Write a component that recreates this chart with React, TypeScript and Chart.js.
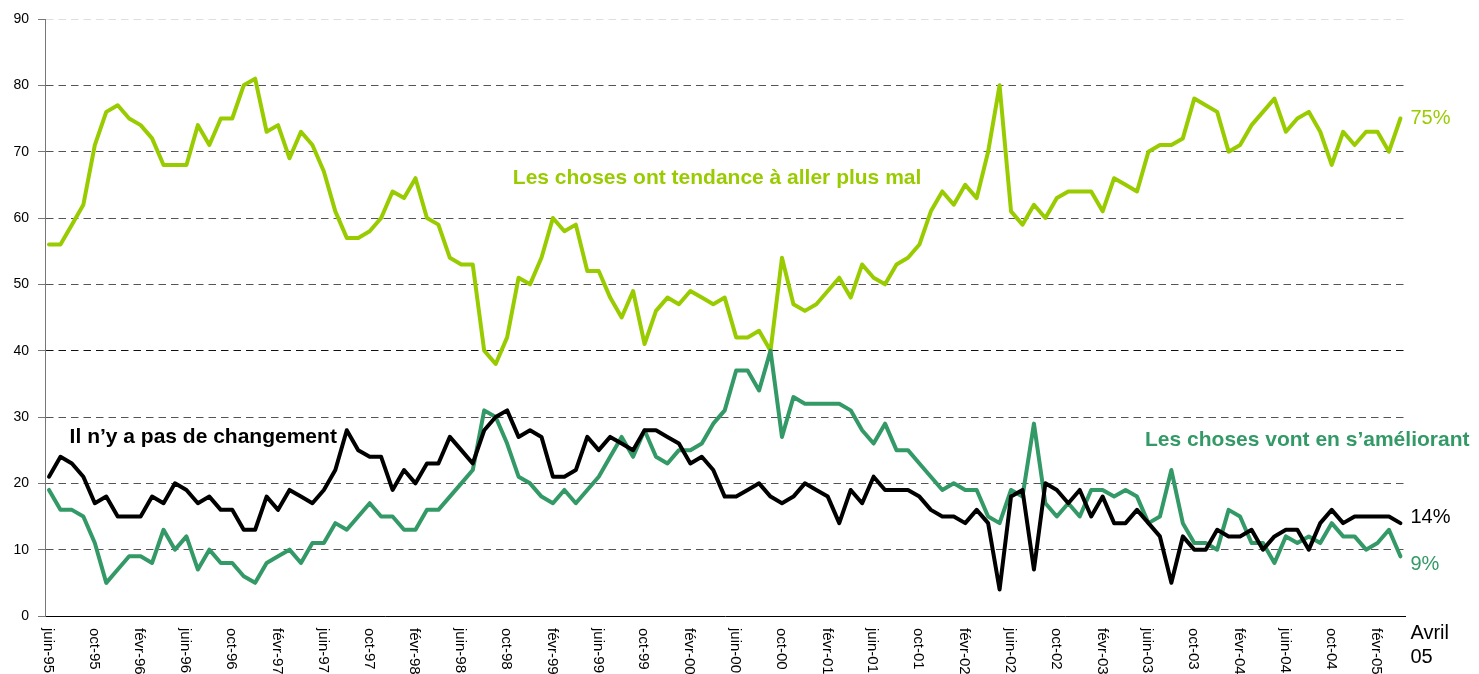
import React, { useEffect, useRef } from "react";
import { Chart, registerables } from "chart.js";

Chart.register(...registerables);

// Monthly polls, juin-95 .. avril-05 (119 points)
const tickLabels = [
  "juin-95", "oct-95", "févr-96", "juin-96", "oct-96", "févr-97", "juin-97", "oct-97",
  "févr-98", "juin-98", "oct-98", "févr-99", "juin-99", "oct-99", "févr-00", "juin-00",
  "oct-00", "févr-01", "juin-01", "oct-01", "févr-02", "juin-02", "oct-02", "févr-03",
  "juin-03", "oct-03", "févr-04", "juin-04", "oct-04", "févr-05",
];
const tickEvery = 4;
const endLabel = ["Avril", "05"];

const worse = [
  56, 56, 59, 62, 71, 76, 77, 75, 74, 72, 68, 68, 68, 74, 71, 75, 75, 80, 81, 73, 74,
  69, 73, 71, 67, 61, 57, 57, 58, 60, 64, 63, 66, 60, 59, 54, 53, 53, 40, 38, 42, 51,
  50, 54, 60, 58, 59, 52, 52, 48, 45, 49, 41, 46, 48, 47, 49, 48, 47, 48, 42, 42, 43,
  40, 54, 47, 46, 47, 49, 51, 48, 53, 51, 50, 53, 54, 56, 61, 64, 62, 65, 63, 70, 80,
  61, 59, 62, 60, 63, 64, 64, 64, 61, 66, 65, 64, 70, 71, 71, 72, 78, 77, 76, 70, 71,
  74, 76, 78, 73, 75, 76, 73, 68, 73, 71, 73, 73, 70, 75,
];

const noChange = [
  21, 24, 23, 21, 17, 18, 15, 15, 15, 18, 17, 20, 19, 17, 18, 16, 16, 13, 13, 18, 16,
  19, 18, 17, 19, 22, 28, 25, 24, 24, 19, 22, 20, 23, 23, 27, 25, 23, 28, 30, 31, 27,
  28, 27, 21, 21, 22, 27, 25, 27, 26, 25, 28, 28, 27, 26, 23, 24, 22, 18, 18, 19, 20,
  18, 17, 18, 20, 19, 18, 14, 19, 17, 21, 19, 19, 19, 18, 16, 15, 15, 14, 16, 14, 4,
  18, 19, 7, 20, 19, 17, 19, 15, 18, 14, 14, 16, 14, 12, 5, 12, 10, 10, 13, 12, 12,
  13, 10, 12, 13, 13, 10, 14, 16, 14, 15, 15, 15, 15, 14,
];

const better = [
  19, 16, 16, 15, 11, 5, 7, 9, 9, 8, 13, 10, 12, 7, 10, 8, 8, 6, 5, 8, 9,
  10, 8, 11, 11, 14, 13, 15, 17, 15, 15, 13, 13, 16, 16, 18, 20, 22, 31, 30, 26, 21,
  20, 18, 17, 19, 17, 19, 21, 24, 27, 24, 28, 24, 23, 25, 25, 26, 29, 31, 37, 37, 34,
  40, 27, 33, 32, 32, 32, 32, 31, 28, 26, 29, 25, 25, 23, 21, 19, 20, 19, 19, 15, 14,
  19, 18, 29, 17, 15, 17, 15, 19, 19, 18, 19, 18, 14, 15, 22, 14, 11, 11, 10, 16, 15,
  11, 11, 8, 12, 11, 12, 11, 14, 12, 12, 10, 11, 13, 9,
];

const seriesNames = [
  "Il n\u2019y a pas de changement",
  "Les choses vont en s\u2019am\u00e9liorant",
  "Les choses ont tendance \u00e0 aller plus mal",
];

const COLORS = { worse: "#99CC00", better: "#339966", noChange: "#000000" };
const FONT = "'Liberation Sans', Arial, Helvetica, sans-serif";

const toPoints = (arr: number[]) => arr.map((v, i) => ({ x: i, y: v }));

const overlay = {
  id: "overlay",
  afterDraw(chart: any) {
    const { ctx, chartArea } = chart;
    const xs = chart.scales.x;
    const ys = chart.scales.y;
    ctx.save();

    // rotated category labels (reading top to bottom)
    ctx.fillStyle = "#000";
    ctx.font = `15px ${FONT}`;
    tickLabels.forEach((lab, k) => {
      const px = xs.getPixelForValue(k * tickEvery) - 1;
      ctx.save();
      ctx.translate(px, chartArea.bottom + 12);
      ctx.rotate(Math.PI / 2);
      ctx.textAlign = "left";
      ctx.textBaseline = "middle";
      ctx.fillText(lab, 0, 0);
      ctx.restore();
    });

    // end label
    const last = worse.length - 1;
    const endX = xs.getPixelForValue(last) + 10;
    ctx.font = `20px ${FONT}`;
    ctx.textAlign = "left";
    ctx.textBaseline = "middle";
    ctx.fillText(endLabel[0], endX, chartArea.bottom + 17);
    ctx.fillText(endLabel[1], endX, chartArea.bottom + 41);

    // last-value labels
    const finals = [
      { v: worse[last], c: COLORS.worse, dy: 0 },
      { v: noChange[last], c: COLORS.noChange, dy: -6 },
      { v: better[last], c: COLORS.better, dy: 8 },
    ];
    finals.forEach((f) => {
      ctx.fillStyle = f.c;
      ctx.fillText(`${f.v}%`, endX, ys.getPixelForValue(f.v) + f.dy);
    });

    // series titles
    ctx.font = `bold 21px ${FONT}`;
    const titles = [
      { t: seriesNames[2], c: COLORS.worse, x: 40.5, y: 66 },
      { t: seriesNames[0], c: COLORS.noChange, x: 1.8, y: 27 },
      { t: seriesNames[1], c: COLORS.better, x: 95.7, y: 26.5 },
    ];
    titles.forEach((t) => {
      ctx.fillStyle = t.c;
      ctx.fillText(t.t, xs.getPixelForValue(t.x), ys.getPixelForValue(t.y));
    });

    ctx.restore();
  },
};

export default function App() {
  const ref = useRef<HTMLCanvasElement | null>(null);

  useEffect(() => {
    if (!ref.current) return;
    Chart.defaults.font.family = FONT;
    const lineStyle = {
      borderWidth: 4,
      pointRadius: 0,
      tension: 0,
      borderJoinStyle: "round" as const,
      borderCapStyle: "round" as const,
      fill: false,
    };
    const chart = new Chart(ref.current, {
      type: "line",
      data: {
        datasets: [
          { label: seriesNames[0], data: toPoints(noChange), borderColor: COLORS.noChange, ...lineStyle },
          { label: seriesNames[1], data: toPoints(better), borderColor: COLORS.better, ...lineStyle },
          { label: seriesNames[2], data: toPoints(worse), borderColor: COLORS.worse, ...lineStyle },
        ],
      },
      options: {
        animation: false,
        responsive: false,
        devicePixelRatio: 1,
        layout: { padding: { top: 19, right: 74, bottom: 0, left: 0 } },
        plugins: { legend: { display: false }, tooltip: { enabled: false } },
        scales: {
          x: {
            type: "linear",
            min: -0.35,
            max: worse.length - 1 + 0.4,
            ticks: { display: false },
            grid: { display: true, color: "rgba(0,0,0,0)", drawTicks: false },
            border: { display: true, color: "#000", width: 1 },
            afterFit: (s: any) => {
              s.height = 58;
            },
          },
          y: {
            min: 0,
            max: 90,
            ticks: {
              stepSize: 10,
              color: "#000",
              padding: 9,
              font: { size: 14, family: FONT },
            },
            grid: {
              color: (c: any) => {
                const v = c.tick?.value;
                if (v === 90) return "#dedede";
                if (v === 0) return "rgba(0,0,0,0)";
                if (v === 40) return "#111";
                return "#555";
              },
              lineWidth: 1,
              tickLength: 7,
              tickColor: "#777",
              tickBorderDash: [],
            },
            border: { display: true, color: "#777", width: 1, dash: [7.5, 5] },
            afterFit: (s: any) => {
              s.width = 45;
            },
          },
        },
      },
      plugins: [overlay],
    });
    return () => chart.destroy();
  }, []);

  return (
    <div style={{ position: "fixed", left: 0, top: 0, width: 1479, height: 674, background: "#fff" }}>
      <canvas ref={ref} width={1479} height={674} style={{ display: "block" }} />
    </div>
  );
}
